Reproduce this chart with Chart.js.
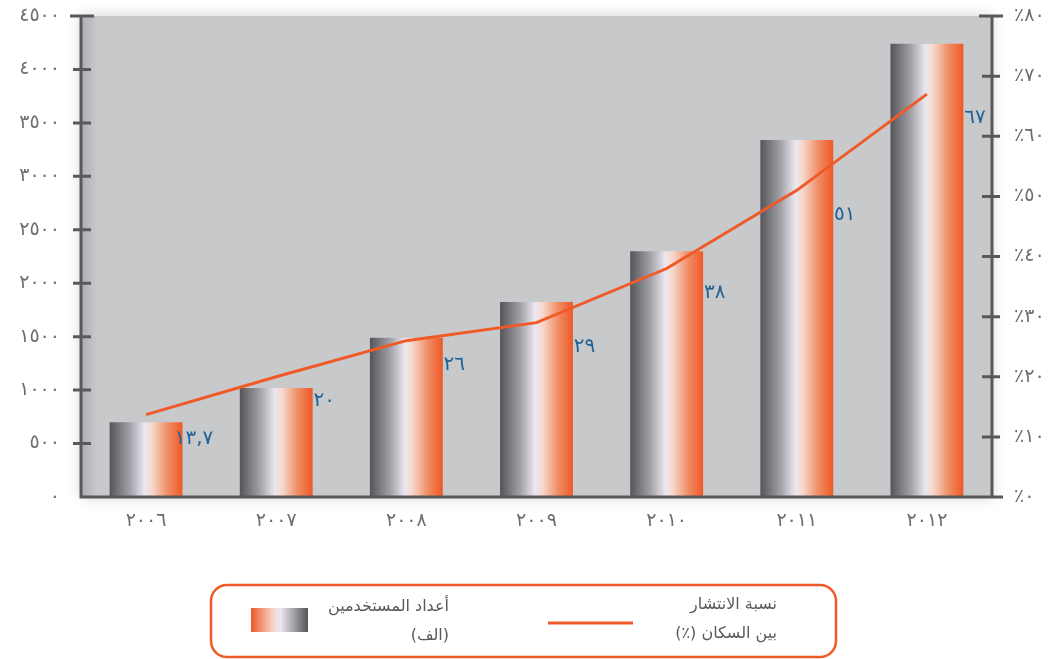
<!DOCTYPE html>
<html>
<head>
<meta charset="utf-8">
<script src="https://cdn.jsdelivr.net/npm/chart.js@4/dist/chart.umd.min.js"></script>
<style>
  html, body { margin: 0; padding: 0; background: #fff; }
  #wrap { width: 1058px; height: 659px; }
</style>
</head>
<body>
<div id="wrap"><canvas id="grafico"></canvas></div>
<script>
const anos = ["٢٠٠٦", "٢٠٠٧", "٢٠٠٨", "٢٠٠٩", "٢٠١٠", "٢٠١١", "٢٠١٢"];
const usuarios = [700, 1020, 1490, 1825, 2300, 3340, 4240]; // الف
const penetracao = [13.7, 20, 26, 29, 38, 51, 67]; // %
const rotulos = ["١٣,٧", "٢٠", "٢٦", "٢٩", "٣٨", "٥١", "٦٧"];

const digitos = "٠١٢٣٤٥٦٧٨٩";
const arabe = (n) => String(n).replace(/[0-9]/g, (d) => digitos[d]);

const LARANJA = "#f05a28";
const CINZA = "#58595b";
const FONTE = "'DejaVu Sans', sans-serif";

// gradiente horizontal de cada barra (cinza -> branco -> laranja)
function corBarra(ctx) {
  const chart = ctx.chart;
  const x = chart.scales.x;
  if (!x || !chart.chartArea) return LARANJA;
  const centro = x.getPixelForValue(ctx.dataIndex);
  const meia = (x.width / anos.length) * 0.56 / 2;
  const g = chart.ctx.createLinearGradient(centro - meia, 0, centro + meia, 0);
  g.addColorStop(0, "#545559");
  g.addColorStop(0.28, "#a2a2a8");
  g.addColorStop(0.48, "#ebe7f1");
  g.addColorStop(0.58, "#f6d9cd");
  g.addColorStop(0.8, "#f08c63");
  g.addColorStop(1, "#ef5826");
  return g;
}

// tamanho fixo dos eixos, sem o recuo automático dos rótulos
const fixa = (w, h) => (s) => {
  if (w) s.width = w;
  if (h) s.height = h;
  s.paddingTop = 0;
  s.paddingBottom = 0;
  s.paddingLeft = 0;
  s.paddingRight = 0;
};

const fundo = {
  id: "fundo",
  beforeDatasetsDraw(chart) {
    const { ctx, chartArea: a } = chart;
    ctx.save();
    ctx.shadowColor = "rgba(0,0,0,0.18)";
    ctx.shadowBlur = 14;
    ctx.fillStyle = "#c8c9cb";
    ctx.fillRect(a.left, a.top, a.right - a.left, a.bottom - a.top);
    ctx.restore();
    ctx.save();
    const g = ctx.createLinearGradient(a.left, 0, a.left + 16, 0);
    g.addColorStop(0, "rgba(90,90,95,0.25)");
    g.addColorStop(1, "rgba(90,90,95,0)");
    ctx.fillStyle = g;
    ctx.fillRect(a.left, a.top, 16, a.bottom - a.top);
    ctx.restore();
  },
};

// eixos com marcas cruzando a linha
const eixos = {
  id: "eixos",
  afterDatasetsDraw(chart) {
    const { ctx, chartArea: a, scales } = chart;
    ctx.save();
    ctx.strokeStyle = CINZA;
    ctx.lineWidth = 3;
    ctx.beginPath();
    ctx.moveTo(a.left, a.top);
    ctx.lineTo(a.left, a.bottom);
    ctx.lineTo(a.right + 8, a.bottom);
    ctx.moveTo(a.right, a.top);
    ctx.lineTo(a.right, a.bottom);
    scales.y.ticks.forEach((t) => {
      const py = scales.y.getPixelForValue(t.value);
      if (t.value === 0) return;
      const w = t.value === 4500 ? 11 : 8;
      ctx.moveTo(a.left - w, py);
      ctx.lineTo(a.left + w + 2, py);
    });
    scales.y1.ticks.forEach((t) => {
      const py = scales.y1.getPixelForValue(t.value);
      const w = t.value === 80 || t.value === 0 ? 11 : 8;
      ctx.moveTo(a.right - w - 2, py);
      ctx.lineTo(a.right + w, py);
    });
    ctx.stroke();
    ctx.restore();
  },
};

// valores da linha em azul
const valores = {
  id: "valores",
  afterDatasetsDraw(chart) {
    const { ctx } = chart;
    const meta = chart.getDatasetMeta(1);
    ctx.save();
    ctx.fillStyle = "#1f6296";
    ctx.font = "20px " + FONTE;
    ctx.textAlign = "center";
    ctx.textBaseline = "middle";
    meta.data.forEach((p, i) => {
      ctx.fillText(rotulos[i], p.x + 48, p.y + 24);
    });
    ctx.restore();
  },
};

// legenda em caixa arredondada
const legenda = {
  id: "legenda",
  afterDraw(chart) {
    const { ctx } = chart;
    ctx.save();
    ctx.strokeStyle = LARANJA;
    ctx.lineWidth = 2.5;
    ctx.beginPath();
    ctx.roundRect(211, 585, 625, 72, 16);
    ctx.stroke();

    const g = ctx.createLinearGradient(251, 0, 308, 0);
    g.addColorStop(0, "#ef5826");
    g.addColorStop(0.4, "#f6d9cd");
    g.addColorStop(0.52, "#ebe7f1");
    g.addColorStop(0.75, "#a2a2a8");
    g.addColorStop(1, "#545559");
    ctx.fillStyle = g;
    ctx.fillRect(251, 608, 57, 24);

    ctx.strokeStyle = LARANJA;
    ctx.lineWidth = 3;
    ctx.beginPath();
    ctx.moveTo(548, 623);
    ctx.lineTo(633, 623);
    ctx.stroke();

    ctx.fillStyle = "#58595b";
    ctx.font = "16px " + FONTE;
    ctx.direction = "rtl";
    ctx.textAlign = "right";
    ctx.textBaseline = "middle";
    ctx.fillText("أعداد المستخدمين", 449, 607);
    ctx.fillText("(الف)", 449, 636);
    ctx.fillText("نسبة الانتشار", 777, 605);
    ctx.fillText("بين السكان (٪)", 777, 634);
    ctx.restore();
  },
};

Chart.defaults.font.family = FONTE;

const g_usuarios = document.getElementById("grafico");

new Chart(g_usuarios, {
  data: {
    labels: anos,
    datasets: [
      {
        type: "bar",
        label: "أعداد المستخدمين (الف)",
        data: usuarios,
        backgroundColor: corBarra,
        borderWidth: 0,
        categoryPercentage: 1,
        barPercentage: 0.56,
        yAxisID: "y",
        order: 2,
      },
      {
        type: "line",
        label: "نسبة الانتشار بين السكان (٪)",
        data: penetracao,
        borderColor: LARANJA,
        borderWidth: 3,
        pointRadius: 0,
        tension: 0,
        yAxisID: "y1",
        order: 1,
      },
    ],
  },
  options: {
    responsive: true,
    maintainAspectRatio: false,
    animation: false,
    layout: { padding: { top: 16, bottom: 112, left: 0, right: 0 } },
    plugins: {
      legend: { display: false },
      tooltip: { enabled: false },
    },
    scales: {
      x: {
        grid: { display: false, drawTicks: false },
        border: { display: false },
        ticks: {
          color: "#6d6e71",
          font: { size: 19 },
          padding: 13,
          maxRotation: 0,
        },
        afterFit: fixa(0, 50),
      },
      y: {
        position: "left",
        min: 0,
        max: 4500,
        grid: { display: false, drawTicks: false },
        border: { display: false },
        ticks: {
          stepSize: 500,
          color: "#6d6e71",
          font: { size: 19 },
          padding: 21,
          callback: (v) => arabe(v),
        },
        afterFit: fixa(81, 0),
      },
      y1: {
        position: "right",
        min: 0,
        max: 80,
        grid: { display: false, drawTicks: false },
        border: { display: false },
        ticks: {
          stepSize: 10,
          color: "#6d6e71",
          font: { size: 19 },
          padding: 22,
          callback: (v) => "٪" + arabe(v),
        },
        afterFit: fixa(66, 0),
      },
    },
  },
  plugins: [fundo, eixos, valores, legenda],
});
</script>
</body>
</html>
